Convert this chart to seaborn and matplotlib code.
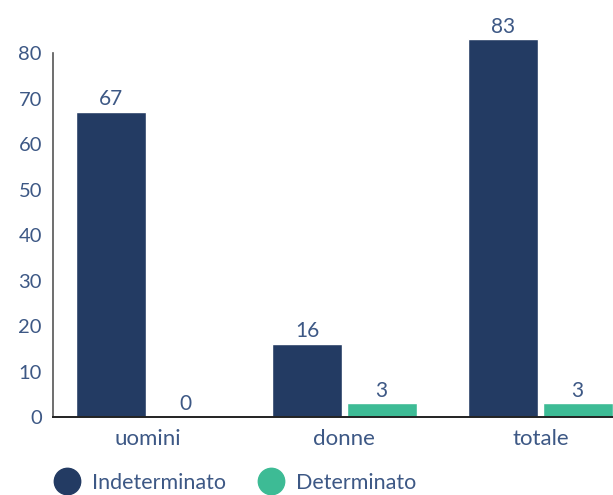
import pandas as pd
import numpy as np
import matplotlib
matplotlib.use('Agg')
import matplotlib.pyplot as plt
from matplotlib.lines import Line2D
import seaborn as sns

# Data
categories = ['uomini', 'donne', 'totale']
indeterminato = [67, 16, 83]
determinato = [0, 3, 3]
series_names = ['Indeterminato', 'Determinato']

navy = '#233b63'
green = '#3dbb95'
text_col = '#3d5885'

df = pd.DataFrame({
    'gruppo': categories * 2,
    'valore': indeterminato + determinato,
    'tipo': [series_names[0]] * 3 + [series_names[1]] * 3,
})

sns.set_style('white')
plt.rcParams['font.family'] = ['Lato', 'DejaVu Sans']

fig = plt.figure(figsize=(6.13, 4.95), dpi=100)
# axes reach above the 80 tick so the 83 bar and its label fit
ax = fig.add_axes([0.0865, 0.1576, 0.9135, 0.827])

sns.barplot(data=df, x='gruppo', y='valore', hue='tipo', order=categories,
            hue_order=series_names, palette=[navy, green], width=0.76,
            gap=0.06, saturation=1, legend=False, ax=ax)

for cont in ax.containers:
    ax.bar_label(cont, padding=2, fontsize=15, color=text_col)

ax.set_ylim(0, 90)
ax.set_xlim(-0.485, 2.37)
ax.set_yticks(range(0, 81, 10))
ax.set_xlabel('')
ax.set_ylabel('')

for s in ['top', 'right']:
    ax.spines[s].set_visible(False)
ax.spines['left'].set_bounds(0, 80)
ax.spines['left'].set_color('#555555')
ax.spines['bottom'].set_color('#222222')
ax.spines['left'].set_linewidth(1.2)
ax.spines['bottom'].set_linewidth(1.4)

ax.tick_params(axis='y', direction='in', length=10, width=1.2, color='#444444',
               labelsize=14.5, labelcolor=text_col, pad=8)
ax.tick_params(axis='x', which='major', length=0, labelsize=16,
               labelcolor=text_col, pad=9)
ax.set_xticks([0.5, 1.5], minor=True)
ax.tick_params(axis='x', which='minor', direction='in', length=6, width=1.2,
               color='#444444')

handles = [Line2D([], [], marker='o', linestyle='', markersize=19, color=c)
           for c in [navy, green]]
fig.legend(handles, series_names, loc='lower left', bbox_to_anchor=(0.043, -0.035),
           ncol=2, frameon=False, fontsize=15.5, labelcolor=text_col,
           handletextpad=0.17, columnspacing=1.07)

fig.savefig('out.png', dpi=100)
plt.close()
